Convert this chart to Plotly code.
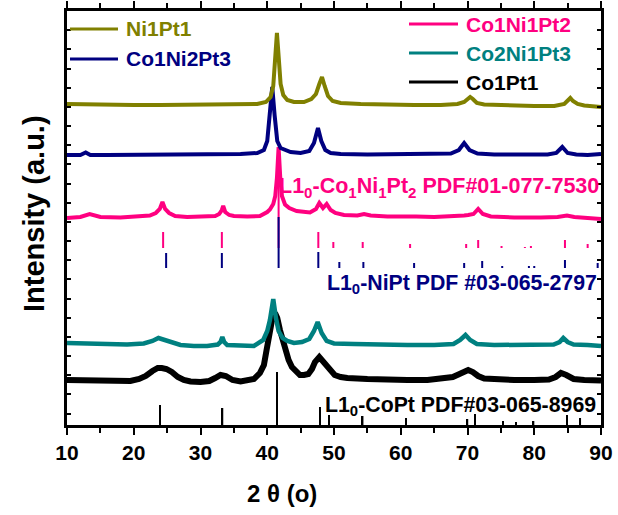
import plotly.graph_objects as go

# ---------------- data (2theta in degrees, intensity in a.u. above each pattern's baseline) -------------
ni1pt1_x = [10, 13, 16, 20, 24, 28, 32, 36, 38.5, 39.8, 40.5, 40.9, 41.2, 41.45, 41.7, 42.0, 42.4, 43.0, 44.0,
            45.5, 46.6, 47.3, 47.8, 48.2, 48.6, 49.1, 49.8, 51, 54, 58, 62, 66, 68.5, 69.5, 70.1, 70.4, 70.8,
            71.4, 72.5, 76, 80, 83, 84.5, 85.1, 85.4, 85.8, 86.5, 87.5, 90]
ni1pt1_y = [2, 1.5, 1.5, 1, 1, 1, 1, 1.5, 2, 4, 9, 20, 45, 73, 50, 22, 11, 6, 4,
            4, 7, 12, 22, 29, 20, 10, 5, 3, 2, 1, 1, 1, 2, 4, 8, 9, 7,
            3, 1.5, 0.5, 0, 0, 2, 6, 8, 5, 2, 0.5, -1]

co1ni2pt3_x = [10, 12, 12.8, 13.5, 16, 20, 24, 28, 32, 36, 38.5, 39.5, 40.0, 40.4, 40.75, 41.1, 41.5, 42.0,
               42.6, 43.5, 45, 46.3, 47.0, 47.6, 48.1, 48.7, 49.5, 51, 55, 60, 64, 67.5, 68.7, 69.5, 70.3,
               71.5, 74, 78, 82, 83.3, 84.2, 85.0, 86.3, 88, 90]
co1ni2pt3_y = [0, 0, 2.5, 0, 0, 0, 0, 0, 0.5, 1, 2, 5, 14, 40, 68, 40, 14, 7,
               5, 3, 2, 4, 12, 27, 14, 5, 2, 1, 0.5, 0.5, 0.5, 1.5, 5, 12, 5,
               1.5, 0.5, 0, 0.5, 2, 8, 2, 0.5, 0, 1]

co1ni1pt2_x = [10, 12, 13.4, 15, 18, 21, 22.4, 23.3, 23.9, 24.3, 24.7, 25.3, 26.2, 28, 30, 32.2, 32.8, 33.2,
               33.4, 33.7, 34.3, 35, 37, 38.9, 40.0, 40.4, 40.9, 41.2, 41.45, 41.7, 41.95, 42.2, 42.66, 43.3,
               44.4, 45.5, 46.4, 47.3, 47.8, 48.35, 48.9, 49.5, 50.2, 51.5, 53.5, 54.5, 55.5, 58, 60.5, 61.4,
               62.3, 65, 68, 69.5, 70.1, 70.9, 71.6, 72.3, 73.5, 77, 81, 83.5, 84.9, 86, 88, 90]
co1ni1pt2_y = [0, 1, 4, 1, 0.5, 1.5, 2.5, 5, 9, 16, 9, 5, 2, 1, 1, 2, 4, 8,
               12, 6, 3, 2, 1.5, 2, 6, 8.5, 14, 22, 40, 71, 40, 22, 13.5, 10,
               7, 6, 5.5, 9, 15, 10, 14, 8, 5, 3, 2.5, 4, 2.5, 1.5, 1.5, 2.5,
               1.5, 1, 1.5, 2.5, 3, 4, 9, 4, 1.5, 0.5, 0.5, 1, 2.5, 1, 0, -1]

co2ni1pt3_x = [10, 13, 16, 19, 21.5, 22.8, 23.7, 24.6, 25.8, 27, 29, 31, 32.6, 33.0, 33.27, 33.55, 34, 36,
               38, 39.4, 40.0, 40.4, 40.9, 41.3, 41.7, 42.3, 43.0, 44, 45.2, 46.3, 47.0, 47.55, 48.15, 48.9,
               50, 53, 57, 61, 65, 67.9, 68.9, 69.7, 70.4, 71.4, 74, 78, 82.9, 83.8, 84.35, 85.0, 85.9, 88, 90]
co2ni1pt3_y = [2, 1.5, 1, 0.5, 1.5, 4, 7, 5, 2, 0, -1, -1, 0.5, 3, 8, 3, 0, -1,
               -1, 5, 14, 25, 46, 27, 14, 7, 4, 2, 3, 6, 14, 23, 12, 4,
               1.5, 1, 0, 0, 0, 1, 5, 10, 5, 1, 0, 0, 0.5, 3, 7, 3, 0.5, 0, -1]

co1pt1_x = [10, 12, 14, 16, 18, 19.5, 20.8, 21.8, 22.8, 23.6, 24.2, 24.9, 25.7, 26.6, 27.5, 28.5, 30, 31.3,
            32.2, 33.0, 33.8, 34.8, 36, 38.0, 38.9, 39.5, 39.9, 40.2, 40.5, 40.8, 41.16, 41.5, 41.9, 42.3,
            42.66, 43.2, 43.7, 44.3, 44.9, 45.5, 46.15, 46.7, 47.15, 47.8, 48.4, 48.9, 49.5, 50.1, 51, 52,
            55, 58, 61, 64, 66.5, 67.8, 68.8, 69.5, 70.1, 70.8, 71.6, 72.5, 74, 77, 80, 82.2, 83.2, 84.0,
            84.8, 85.9, 87.5, 90]
co1pt1_y = [2, 1.5, 2, 1, 0, 1, 3, 6, 11, 14, 14, 13, 10, 5, 2, 0.5, 0, 1,
            4, 7, 6, 2, 0.5, 3, 9, 17, 32, 44, 55, 65, 69, 64, 52, 41,
            32, 22, 15, 10, 7, 7, 8, 13, 20, 25, 20, 15, 10, 7, 5, 4,
            3, 2, 2, 2, 3, 5, 8, 11, 12, 10, 6, 3.5, 2.5, 2, 2, 2.5, 5, 9,
            7, 3, 2, 1.5]

# reference patterns (stick positions and relative heights)
ref_conipt_pos = [24.4, 33.2, 41.7, 47.65, 49.9, 54.3, 61.4, 69.8, 71.6, 75.1, 78.6, 79.5, 84.6, 88.0]
ref_conipt_int = [16, 16, 100, 16, 6, 6, 4, 4, 8, 2, 1, 2, 8, 4]
ref_nipt_pos = [24.85, 33.2, 41.7, 47.65, 50.8, 54.4, 62.0, 69.5, 72.2, 75.2, 79.2, 80.0, 84.6, 89.5]
ref_nipt_int = [15, 15, 51, 16, 6, 6, 5, 5, 7, 2, 2, 2, 8, 5]
ref_copt_pos = [23.9, 33.3, 41.5, 47.9, 49.25, 54.3, 60.8, 70.0, 71.1, 75.3, 77.3, 79.9, 84.9, 86.9]
ref_copt_int = [20, 17, 53, 18, 10, 9, 7, 6, 11, 4, 3, 4, 10, 7]

x_ticks = [10, 20, 30, 40, 50, 60, 70, 80, 90]

# ---------------- styling ----------------
FONT = "Liberation Sans, Arial, sans-serif"
OLIVE, NAVY, PINK, TEAL, BLACK = "#808000", "#000080", "#FF0080", "#008080", "#000000"

series = [
    ("Co1Pt1", co1pt1_x, co1pt1_y, 43, BLACK, 6),
    ("Co2Ni1Pt3", co2ni1pt3_x, co2ni1pt3_y, 80, TEAL, 4.5),
    ("Co1Ni1Pt2", co1ni1pt2_x, co1ni1pt2_y, 207, PINK, 4),
    ("Co1Ni2Pt3", co1ni2pt3_x, co1ni2pt3_y, 270, NAVY, 4),
    ("Ni1Pt1", ni1pt1_x, ni1pt1_y, 319, OLIVE, 4),
]

fig = go.Figure()

# stick patterns
fig.add_trace(go.Bar(x=ref_copt_pos, y=ref_copt_int, base=0, width=0.22, marker=dict(color=BLACK, line_width=0),
                     showlegend=False, name="L1_0-CoPt PDF#03-065-8969"))
fig.add_trace(go.Bar(x=ref_conipt_pos, y=ref_conipt_int, base=177, width=0.3, marker=dict(color=PINK, line_width=0),
                     showlegend=False, name="L1_0-Co1Ni1Pt2 PDF#01-077-7530"))
fig.add_trace(go.Bar(x=ref_nipt_pos, y=ref_nipt_int, base=157, width=0.3, marker=dict(color=NAVY, line_width=0),
                     showlegend=False, name="L1_0-NiPt PDF#03-065-2797"))

for name, xs, ys, off, col, w in series:
    fig.add_trace(go.Scatter(x=xs, y=[v + off for v in ys], mode="lines", name=name,
                             line=dict(color=col, width=w), showlegend=False))

fig.update_layout(
    width=618, height=515,
    margin=dict(l=67, r=17, t=11, b=90),
    paper_bgcolor="white", plot_bgcolor="white",
    barmode="overlay",
    font=dict(family=FONT, color="black"),
)

fig.update_xaxes(range=[10, 90], tickvals=x_ticks, ticks="outside", ticklen=7, tickwidth=2, tickcolor="black",
                 minor=dict(dtick=5, tick0=10, ticks="outside", ticklen=5, tickwidth=2, tickcolor="black"),
                 showline=True, linewidth=2.5, linecolor="black", mirror="allticks", showgrid=False, zeroline=False,
                 automargin=False,
                 tickfont=dict(family=FONT, size=21, color="black", weight="bold"))
fig.update_yaxes(range=[0, 414], showticklabels=False, ticks="inside", ticklen=4, tickwidth=1.5, tickcolor="black",
                 tick0=11.4, dtick=19.17, showline=True, linewidth=2.5, linecolor="black", mirror="allticks",
                 showgrid=False, zeroline=False, automargin=False)

def px(x):
    return (x - 67) / 534.0

def py(y):
    return (425 - y) / 414.0

ann = []
# axis titles
ann.append(dict(text="Intensity (a.u.)", x=px(34), y=py(214), xref="paper", yref="paper", textangle=-90,
                xanchor="center", yanchor="middle",
                showarrow=False, font=dict(family=FONT, size=29, color="black", weight="bold")))
ann.append(dict(text="2 θ (o)", x=px(282), y=py(493), xref="paper", yref="paper", showarrow=False,
                xanchor="center", yanchor="middle",
                font=dict(family=FONT, size=24, color="black", weight="bold")))
# pattern labels
ann.append(dict(text="L1<sub>0</sub>-Co<sub>1</sub>Ni<sub>1</sub>Pt<sub>2</sub> PDF#01-077-7530",
                x=px(601), y=py(187), xref="paper", yref="paper", xanchor="right", yanchor="middle",
                showarrow=False, font=dict(family=FONT, size=21.5, color=PINK, weight="bold")))
ann.append(dict(text="L1<sub>0</sub>-NiPt PDF #03-065-2797",
                x=px(599), y=py(284), xref="paper", yref="paper", xanchor="right", yanchor="middle",
                showarrow=False, font=dict(family=FONT, size=21.3, color=NAVY, weight="bold")))
ann.append(dict(text="L1<sub>0</sub>-CoPt PDF#03-065-8969",
                x=px(598), y=py(406), xref="paper", yref="paper", xanchor="right", yanchor="middle",
                showarrow=False, font=dict(family=FONT, size=21.3, color=BLACK, weight="bold")))

# legend (manual, two columns)
legend_items = [("Ni1Pt1", OLIVE, 70, 118, 29), ("Co1Ni2Pt3", NAVY, 70, 118, 59),
                ("Co1Ni1Pt2", PINK, 409, 458, 24), ("Co2Ni1Pt3", TEAL, 409, 458, 53),
                ("Co1Pt1", BLACK, 409, 458, 82)]
shapes = []
for name, col, x0, x1, yy in legend_items:
    shapes.append(dict(type="line", xref="paper", yref="paper", x0=px(x0), x1=px(x1), y0=py(yy), y1=py(yy),
                       line=dict(color=col, width=3)))
    ann.append(dict(text=name, x=px(x1 + 6), y=py(yy), xref="paper", yref="paper", xanchor="left",
                    yanchor="middle", showarrow=False, font=dict(family=FONT, size=21, color=col, weight="bold")))

fig.update_layout(annotations=ann, shapes=shapes)
fig.write_html("out.html", config={"displayModeBar": False},
               post_script="document.body.style.margin='0';document.body.style.overflow='hidden';")
